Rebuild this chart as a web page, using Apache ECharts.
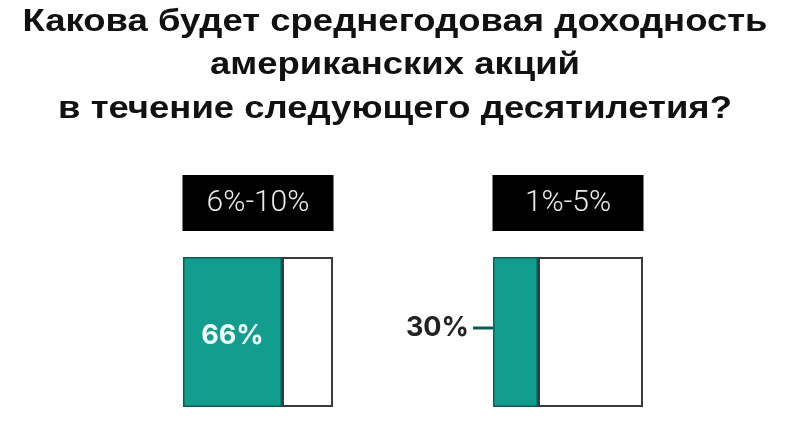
<!DOCTYPE html>
<html>
<head>
<meta charset="utf-8">
<script src="https://cdn.jsdelivr.net/npm/echarts@6/dist/echarts.min.js"></script>
<style>
  html, body { margin: 0; padding: 0; background: #fff; }
  #chart { width: 790px; height: 441px; }
</style>
</head>
<body>
<div id="chart"></div>
<script>
// survey answers: expected yearly return of US stocks, next decade
const titleLines = [
  'Какова будет среднегодовая доходность',
  'американских акций',
  'в течение следующего десятилетия?'
];
const ranges = ['6%-10%', '1%-5%'];
const shares = [66, 30];

const teal = '#129d8e';
const gridLeft = [183, 493];

let myChart = echarts.init(document.getElementById('chart'), null, { renderer: 'canvas' });

let grids = [];
let xAxes = [];
let yAxes = [];
let series = [];

ranges.forEach((r, i) => {
  grids.push({ left: gridLeft[i], top: 257, width: 150, height: 150 });

  xAxes.push({
    gridIndex: i,
    type: 'value',
    min: 0,
    max: 100,
    position: 'top',
    name: '{b|' + r + '}',
    nameLocation: 'middle',
    nameGap: 26,
    nameTextStyle: {
      rich: {
        b: {
          color: '#ececec',
          backgroundColor: '#000',
          fontFamily: 'Roboto',
          fontWeight: 300,
          fontSize: 30,
          width: 151,
          height: 56,
          lineHeight: 56,
          align: 'center'
        }
      }
    },
    axisLine: { show: false },
    axisTick: { show: false },
    axisLabel: { show: false },
    splitLine: { show: false }
  });

  yAxes.push({
    gridIndex: i,
    type: 'category',
    data: [r],
    axisLine: { show: false },
    axisTick: { show: false },
    axisLabel: { show: false }
  });

  // big share goes inside the bar, small one sits left with a little tick
  const inside = shares[i] >= 50;
  series.push({
    type: 'bar',
    xAxisIndex: i,
    yAxisIndex: i,
    stack: 's' + i,
    barWidth: 150,
    data: [shares[i]],
    itemStyle: { color: teal, borderColor: '#0d5c54', borderWidth: 1.5 },
    label: inside ? {
      show: true,
      position: 'inside',
      formatter: '{c}%',
      color: '#f2fffd',
      fontFamily: 'Inter',
      fontWeight: 'bold',
      fontSize: 27,
      offset: [0, 4]
    } : {
      show: true,
      position: 'left',
      distance: 0,
      formatter: '{v|{c}%}{t|}',
      rich: {
        v: { color: '#222', fontFamily: 'Inter', fontWeight: 'bold', fontSize: 27, padding: [0, 4, 0, 0] },
        t: { backgroundColor: '#0d5c54', width: 20, height: 3 }
      },
      offset: [0, -4]
    },
    z: 3
  });
  series.push({
    type: 'bar',
    xAxisIndex: i,
    yAxisIndex: i,
    stack: 's' + i,
    barWidth: 150,
    data: [100 - shares[i]],
    itemStyle: { color: '#fff', borderColor: '#3a3a3a', borderWidth: 2 },
    silent: true,
    z: 2
  });
});

let option = {
  animation: false,
  backgroundColor: '#fff',
  // the title is set a bit wide, like the picture it comes from
  graphic: [{
    type: 'text',
    x: 395,
    y: 0,
    scaleX: 1.14,
    style: {
      text: titleLines.join('\n'),
      font: 'bold 32px "Liberation Sans"',
      fill: '#111',
      align: 'center',
      verticalAlign: 'top',
      lineHeight: 43.5
    }
  }],
  grid: grids,
  xAxis: xAxes,
  yAxis: yAxes,
  series: series
};

myChart.setOption(option);
</script>
</body>
</html>
